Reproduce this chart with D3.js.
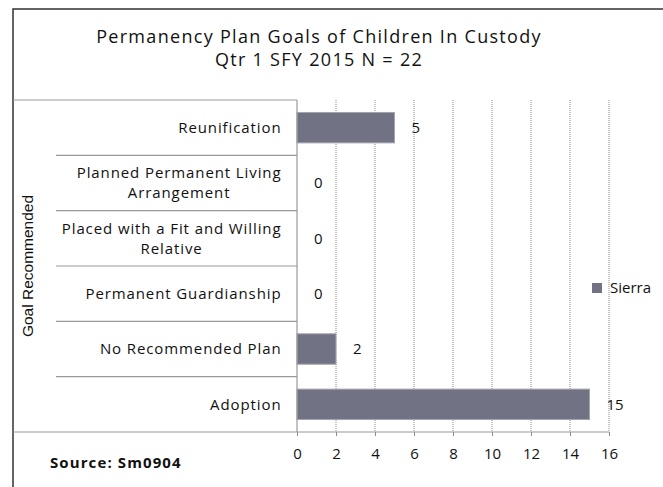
<!DOCTYPE html>
<html>
<head>
<meta charset="utf-8">
<script src="https://cdn.jsdelivr.net/npm/d3@7"></script>
<style>
  html, body { margin: 0; padding: 0; background: #fff; }
  svg { display: block; }
  text { font-family: "Open Sans", "DejaVu Sans", sans-serif; fill: #111; }
</style>
</head>
<body>
<svg id="chart" width="663" height="487"></svg>
<script>
const titleLines = ["Permanency Plan Goals of Children In Custody", "Qtr 1 SFY 2015 N = 22"];
const categories = ["Reunification", "Planned Permanent Living Arrangement", "Placed with a Fit and Willing Relative", "Permanent Guardianship", "No Recommended Plan", "Adoption"];
const values = [5, 0, 0, 0, 2, 15];
const seriesName = "Sierra";
const xTicks = [0, 2, 4, 6, 8, 10, 12, 14, 16];
const yAxisTitle = "Goal Recommended";
const sourceText = "Source: Sm0904";

const svg = d3.select("#chart");
const plot = { left: 297, right: 609, top: 100, bottom: 432 };
const frameLeft = 13, frameTop = 9;
const labelFont = "15px";
const labelSpacing = "0.9px";

// outer frame
svg.append("path")
  .attr("d", `M${frameLeft},490 V${frameTop} H670`)
  .attr("fill", "none").attr("stroke", "#333").attr("stroke-width", 1.5);

// title
svg.append("g").selectAll("text").data(titleLines).join("text")
  .attr("x", 319).attr("y", (d, i) => 43 + i * 23)
  .attr("text-anchor", "middle")
  .style("font-size", "18px")
  .style("letter-spacing", "1.3px")
  .text(d => d);

const x = d3.scaleLinear().domain([0, 16]).range([plot.left, plot.right]);
const y = d3.scaleBand().domain(categories).range([plot.top, plot.bottom])
  .paddingInner(0.45).paddingOuter(0.225);

// gridlines
svg.append("g").selectAll("line").data(xTicks.filter(d => d > 0)).join("line")
  .attr("x1", d => x(d)).attr("x2", d => x(d))
  .attr("y1", plot.top).attr("y2", plot.bottom)
  .attr("stroke", "#8a8a8a").attr("stroke-width", 1)
  .attr("stroke-dasharray", "1,1");

// bars
svg.append("g").selectAll("rect").data(categories).join("rect")
  .attr("x", x(0))
  .attr("y", d => y(d))
  .attr("width", (d, i) => x(values[i]) - x(0))
  .attr("height", y.bandwidth())
  .attr("fill", "#727285")
  .attr("stroke", (d, i) => values[i] > 0 ? "#a5a5b2" : "none")
  .attr("stroke-width", 1);

// value labels
svg.append("g").selectAll("text").data(categories).join("text")
  .attr("x", (d, i) => x(values[i]) + 17)
  .attr("y", d => y(d) + y.bandwidth() / 2)
  .attr("dy", "0.36em")
  .style("font-size", "15px")
  .text((d, i) => values[i]);

// x axis
const xAxis = d3.axisBottom(x).tickValues(xTicks).tickSize(4).tickPadding(12).tickFormat(d3.format("d"));
const gx = svg.append("g").attr("transform", `translate(0,${plot.bottom})`).call(xAxis);
gx.select(".domain").remove();
gx.selectAll(".tick line").attr("stroke", "#888");
gx.selectAll(".tick text").style("font-size", "15px").style("font-family", "'Open Sans', sans-serif").attr("fill", "#111");
svg.append("line").attr("x1", frameLeft).attr("x2", plot.right)
  .attr("y1", plot.bottom).attr("y2", plot.bottom).attr("stroke", "#999").attr("stroke-width", 1.2);

// category axis (multi-level style)
svg.append("line").attr("x1", plot.left).attr("x2", plot.left)
  .attr("y1", plot.top).attr("y2", plot.bottom).attr("stroke", "#999").attr("stroke-width", 1.2);
svg.append("line").attr("x1", frameLeft).attr("x2", plot.left)
  .attr("y1", plot.top).attr("y2", plot.top).attr("stroke", "#999").attr("stroke-width", 1.2);
const step = y.step();
svg.append("g").selectAll("line").data(categories.slice(1)).join("line")
  .attr("x1", 56).attr("x2", plot.left)
  .attr("y1", d => y(d) - step * y.paddingInner() / 2)
  .attr("y2", d => y(d) - step * y.paddingInner() / 2)
  .attr("stroke", "#999").attr("stroke-width", 1.2);

// category labels with wrapping
const labelG = svg.append("g");
function measure(s) {
  const p = labelG.append("text").style("font-size", labelFont).style("letter-spacing", labelSpacing).text(s);
  const w = p.node().getComputedTextLength();
  p.remove();
  return w;
}
categories.forEach(cat => {
  const words = cat.split(" ");
  let lines = [], cur = [];
  words.forEach(w => {
    const test = cur.concat([w]).join(" ");
    if (measure(test) > 240 && cur.length) { lines.push(cur.join(" ")); cur = [w]; }
    else cur.push(w);
  });
  lines.push(cur.join(" "));
  const maxW = d3.max(lines, measure);
  const cx = 281.5 - maxW / 2;
  const cy = y(cat) + y.bandwidth() / 2;
  const lh = 20;
  const t = labelG.append("text").style("font-size", labelFont).style("letter-spacing", labelSpacing).attr("text-anchor", "middle");
  lines.forEach((l, i) => {
    t.append("tspan").attr("x", cx)
      .attr("y", cy + (i - (lines.length - 1) / 2) * lh)
      .attr("dy", "0.36em").text(l);
  });
});

// y axis title
svg.append("text")
  .attr("transform", `translate(33,${(plot.top + plot.bottom) / 2}) rotate(-90)`)
  .attr("text-anchor", "middle")
  .style("font-family", "'Liberation Sans Narrow', 'Arial Narrow', sans-serif")
  .style("font-size", "15.5px")
  .text(yAxisTitle);

// legend
svg.append("rect").attr("x", 592).attr("y", 283).attr("width", 10).attr("height", 10).attr("fill", "#727285");
svg.append("text").attr("x", 610).attr("y", 288).attr("dy", "0.36em").style("font-size", "15px").text(seriesName);

// source
svg.append("text").attr("x", 50).attr("y", 463).attr("dy", "0.36em")
  .style("font-size", "15px").style("font-weight", "bold").style("letter-spacing", "1.1px").text(sourceText);
</script>
</body>
</html>
